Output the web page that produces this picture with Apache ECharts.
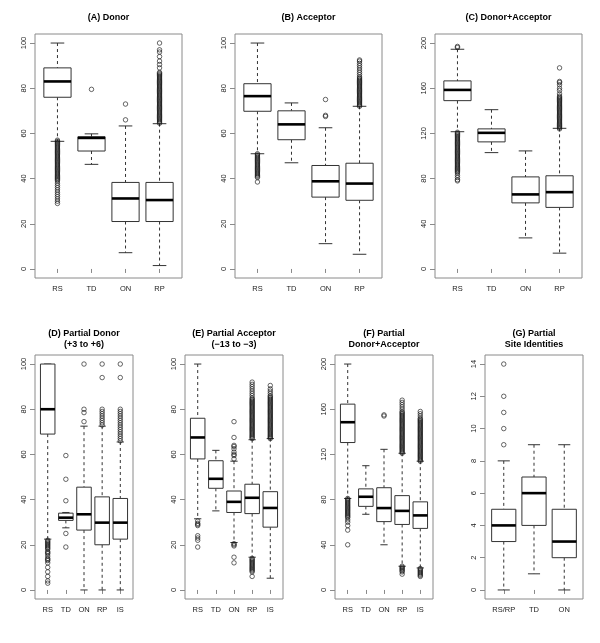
<!DOCTYPE html>
<html><head><meta charset="utf-8">
<script src="https://cdn.jsdelivr.net/npm/echarts@6.0.0/dist/echarts.min.js"></script>
<style>html,body{margin:0;padding:0;background:#fff}#c{width:600px;height:643px}</style>
</head><body><div id="c"></div>
<script>
// ---------- DATA ----------
const titles = ['(A) Donor','(B) Acceptor','(C) Donor+Acceptor','(D) Partial Donor\n(+3 to +6)','(E) Partial Acceptor\n(\u221213 to \u22123)','(F) Partial\nDonor+Acceptor','(G) Partial\nSite Identities'];
const cats4 = ['RS','TD','ON','RP'];
const cats5 = ['RS','TD','ON','RP','IS'];
const catsG = ['RS/RP','TD','ON'];
const ticks100 = [0,20,40,60,80,100];
const ticks200 = [0,40,80,120,160,200];
const ticks14 = [0,2,4,6,8,10,12,14];

// box stats: [lower whisker, Q1, median, Q3, upper whisker]
const boxA = [[56.5,76,83,89,100],[46.3,52.2,58,58.5,59.8],[7.2,21,31.2,38.3,63.3],[1.5,21,30.5,38.3,64.3]];
const boxB = [[51,69.8,76.5,82,100],[47,57.2,64,70,73.5],[11.2,31.8,38.8,45.8,62.5],[6.5,30.4,37.8,46.8,72]];
const boxC = [[121.5,149,158.5,166.5,194.5],[103,112.5,120.5,124,141],[27.5,58.5,66,81.5,104.5],[14,54.5,68,82.5,124.5]];
const boxD = [[22.5,69,80,100,100],[27.5,30.8,32,34,34.3],[0,26.5,33.5,45.5,72.5],[0,20,29.8,41.2,72.5],[0,22.5,29.8,40.5,65.5]];
const boxE = [[31.5,58,67.5,76,100],[35,45,49.2,57.2,61.8],[21,34.3,39,43.8,57],[14.5,33.8,40.8,46.8,66.5],[5.2,27.8,36.3,43.5,67]];
const boxF = [[81,130.5,148.5,164.5,200],[67,74,82.5,89.5,110],[40,60.5,72.5,90.5,124.5],[21,58,70,83.5,121],[19.5,54.5,66,78,114]];
const boxG = [[0,3,4,5,8],[1,4,6,7,9],[0,2,3,5,9]];

// outliers per category
const outA = [
  [57,56.5,56,55.5,55,54.5,54,53.5,53,52.5,52,51.5,51,50.5,50,49.5,49,48.5,48,47.5,47,46.5,46,45.5,45,44.5,44,43.5,43,42.5,42,41.5,41,40.5,40,39.5,39,38,37,36,35,34,33,32,31,30,29],
  [79.5],
  [73,66],
  [64.5,65,65.5,66,66.5,67,67.5,68,68.5,69,69.5,70,70.5,71,71.5,72,72.5,73,73.5,74,74.5,75,75.5,76,76.5,77,77.5,78,78.5,79,79.5,80,80.5,81,81.5,82,82.5,83,83.5,84,84.5,85,85.5,86,86.5,87,89,90.5,92,94,96,97,100]
];
const outB = [
  [51,50.5,50,49.5,49,48.5,48,47.5,47,46.5,46,45.5,45,44.5,44,43.5,43,42.5,42,41.5,41,40.5,38.5],
  [],
  [75,68,67.5],
  [72,72.5,73,73.5,74,74.5,75,75.5,76,76.5,77,77.5,78,78.5,79,79.5,80,80.5,81,81.5,82,82.5,83,83.5,84,84.5,85,86,87,88,89,90,91,92,92.5]
];
const outC = [
  [197,196,121,120,119,118,117,116,115,114,113,112,111,110,109,108,107,106,105,104,103,102,101,100,99,98,97,96,95,94,93,92,91,90,89,88,87,86,85,83,81,79,78],
  [],
  [],
  [124,125,126,127,128,129,130,131,132,133,134,135,136,137,138,139,140,141,142,143,144,145,146,147,148,149,150,151,152,153,155,158,160,163,165,166,178]
];
const outD = [
  [22,21.5,21,20.5,20,19.5,19,18.5,18,17,16.5,16,15,14,13.5,13,12,10,8,6,4,3],
  [59.5,49,39.5,25,19],
  [100,80,78.5,74.5],
  [100,94,80,79,78,77,76,75,74,73],
  [100,94,80,79,78,77,76,75,74,73,72,71,70,69,68,67,66]
];
const outE = [
  [30.5,29.5,29,28.5,24,23,22,19],
  [],
  [74.5,67.5,64,63.5,62.5,61,60,59.5,58,20.5,20,19.5,14.5,12],
  [67,67.5,68,68.5,69,69.5,70,70.5,71,71.5,72,72.5,73,73.5,74,74.5,75,75.5,76,76.5,77,77.5,78,78.5,79,79.5,80,80.5,81,81.5,82,82.5,83,83.5,84,84.5,85,86,87,88,89,90,91,92,14,13.5,13,12.5,12,11.5,11,10.5,10,9.5,9,8.5,8,6],
  [67,67.5,68,68.5,69,69.5,70,70.5,71,71.5,72,72.5,73,73.5,74,74.5,75,75.5,76,76.5,77,77.5,78,78.5,79,79.5,80,80.5,81,81.5,82,82.5,83,83.5,84,84.5,85,85.5,86,87,88,89,90.5]
];
const outF = [
  [81,80,79,78,77,76,75,74,73,72,71,70,69,68,67,66,65,64,62,60,57,53,40],
  [],
  [155,154],
  [121,122,123,124,125,126,127,128,129,130,131,132,133,134,135,136,137,138,139,140,141,142,143,144,145,146,147,148,149,150,151,152,153,154,155,156,157,158,160,162,164,166,168,21,20,19,18,17,16,14],
  [114,115,116,117,118,119,120,121,122,123,124,125,126,127,128,129,130,131,132,133,134,135,136,137,138,139,140,141,142,143,144,145,146,147,148,149,150,151,152,154,156,158,19,18,17,16,15,14,13,12]
];
const outG = [[9,10,11,12,14],[],[]];

// ---------- LAYOUT / STYLE ----------
const panels = [
  {cats:cats4, box:boxA, out:outA, ymax:100, ticks:ticks100, left:35, top:34, w:147, h:244},
  {cats:cats4, box:boxB, out:outB, ymax:100, ticks:ticks100, left:235, top:34, w:147, h:244},
  {cats:cats4, box:boxC, out:outC, ymax:200, ticks:ticks200, left:435, top:34, w:147, h:244},
  {cats:cats5, box:boxD, out:outD, ymax:100, ticks:ticks100, left:35, top:355, w:98, h:244},
  {cats:cats5, box:boxE, out:outE, ymax:100, ticks:ticks100, left:185, top:355, w:98, h:244},
  {cats:cats5, box:boxF, out:outF, ymax:200, ticks:ticks200, left:335, top:355, w:98, h:244},
  {cats:catsG, box:boxG, out:outG, ymax:14, ticks:ticks14, left:485, top:355, w:98, h:244}
];
const FONT = '"Liberation Sans", Arial, Helvetica, sans-serif';
const FRAME = '#8a8a8a';
const BOXC = '#333';

function renderBox(params, api) {
  const x = api.value(0);
  const lo = api.coord([x, api.value(1)]);
  const q1 = api.coord([x, api.value(2)]);
  const md = api.coord([x, api.value(3)]);
  const q3 = api.coord([x, api.value(4)]);
  const hi = api.coord([x, api.value(5)]);
  const bw = api.size([0.8, 0])[0];
  const cx = lo[0], half = bw / 2, cap = bw / 4;
  const dashed = {stroke: BOXC, lineWidth: 1, lineDash: [3, 3], fill: null};
  const solid = {stroke: BOXC, lineWidth: 1, fill: null};
  return {type: 'group', children: [
    {type: 'line', shape: {x1: cx, y1: hi[1], x2: cx, y2: q3[1]}, style: dashed},
    {type: 'line', shape: {x1: cx, y1: q1[1], x2: cx, y2: lo[1]}, style: dashed},
    {type: 'line', shape: {x1: cx - cap, y1: hi[1], x2: cx + cap, y2: hi[1]}, style: solid},
    {type: 'line', shape: {x1: cx - cap, y1: lo[1], x2: cx + cap, y2: lo[1]}, style: solid},
    {type: 'rect', shape: {x: cx - half, y: q3[1], width: bw, height: q1[1] - q3[1]}, style: {fill: '#fff', stroke: BOXC, lineWidth: 1}},
    {type: 'line', shape: {x1: cx - half, y1: md[1], x2: cx + half, y2: md[1]}, style: {stroke: '#000', lineWidth: 2.6}}
  ]};
}

const grid = [], xAxis = [], yAxis = [], series = [], graphic = [];
panels.forEach((p, i) => {
  const n = p.cats.length;
  grid.push({left: p.left, top: p.top, width: p.w, height: p.h, show: true, borderColor: FRAME, borderWidth: 1, backgroundColor: 'transparent', containLabel: false});
  const xt = p.cats.map((c, k) => k + 1);
  xAxis.push({type: 'value', gridIndex: i, min: 0.5 - 0.04 * n, max: n + 0.5 + 0.04 * n,
    axisLine: {show: false}, splitLine: {show: false},
    axisTick: {show: true, length: 4, customValues: xt, lineStyle: {color: FRAME}},
    axisLabel: {show: true, customValues: xt, margin: 7, fontSize: 7.5, fontFamily: FONT, color: '#222',
      formatter: v => p.cats[Math.round(v) - 1] || ''}});
  yAxis.push({type: 'value', gridIndex: i, min: -0.04 * p.ymax, max: 1.04 * p.ymax,
    axisLine: {show: false}, splitLine: {show: false},
    axisTick: {show: true, length: 5, customValues: p.ticks, lineStyle: {color: FRAME}},
    axisLabel: {show: true, customValues: p.ticks, rotate: 90, margin: 7, fontSize: 7.5, fontFamily: FONT, color: '#222'}});
  series.push({type: 'custom', xAxisIndex: i, yAxisIndex: i, renderItem: renderBox, silent: true,
    encode: {x: 0, y: [1, 2, 3, 4, 5]},
    data: p.box.map((b, k) => [k + 1].concat(b))});
  const pts = [];
  p.out.forEach((arr, k) => arr.forEach(v => pts.push([k + 1, v])));
  series.push({type: 'scatter', xAxisIndex: i, yAxisIndex: i, silent: true, symbol: 'circle', symbolSize: 4.5,
    itemStyle: {color: 'rgba(0,0,0,0)', borderColor: '#111', borderWidth: 0.8}, data: pts, z: 3});
  const lines = titles[i].split('\n');
  const cx = p.left + p.w / 2;
  if (lines.length === 1) {
    graphic.push({type: 'text', x: cx, y: 18, style: {text: lines[0], textAlign: 'center', textVerticalAlign: 'middle', font: 'bold 9px ' + FONT, fill: '#000'}});
  } else {
    graphic.push({type: 'text', x: cx, y: 334, style: {text: lines[0], textAlign: 'center', textVerticalAlign: 'middle', font: 'bold 9px ' + FONT, fill: '#000'}});
    graphic.push({type: 'text', x: cx, y: 344.5, style: {text: lines[1], textAlign: 'center', textVerticalAlign: 'middle', font: 'bold 9px ' + FONT, fill: '#000'}});
  }
});

const chart = echarts.init(document.getElementById('c'), null, {renderer: 'canvas'});
chart.setOption({animation: false, backgroundColor: '#fff', grid, xAxis, yAxis, series, graphic});
</script></body></html>
